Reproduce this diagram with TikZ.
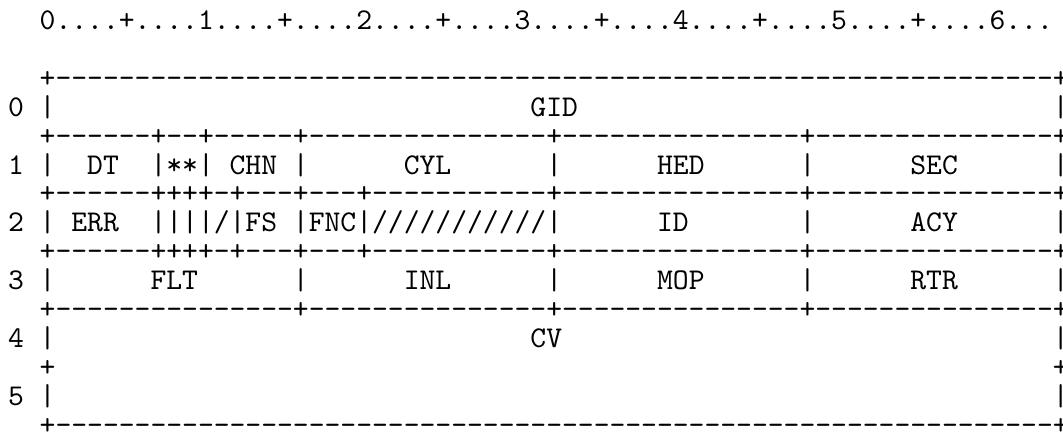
\documentclass[tikz,border=0pt]{standalone}

\newcommand{\dashrun}[1]{\foreach \k in {1,...,#1}{-}}

\begin{document}
\begin{tikzpicture}[x=5.25pt,y=-9.585pt,
                    ascii/.style={anchor=west,inner sep=0pt,font=\ttfamily,text height=0.7em,text depth=0.2em}
                ]
    \useasboundingbox (-2.97,-0.76) rectangle (64.18,14.33);
    % ruler and row numbers
    \node[ascii] (ruler) at (-0.5,0) {0....+....1....+....2....+....3....+....4....+....5....+....6...};
    \foreach \r in {0,...,5}
        {
        \node[ascii] (lbl\r) at (-2.5,{2*\r+3}) {\r};
    }
    % separator lines
    \node[ascii] (sep0) at (-0.5,2) {+\dashrun{63}+};
    \node[ascii] (sep1) at (-0.5,4) {+\dashrun{6}+\dashrun{2}+\dashrun{5}+\dashrun{15}+\dashrun{15}+\dashrun{15}+};
    \node[ascii] (sep2) at (-0.5,6) {+\dashrun{6}++++-+\dashrun{3}+\dashrun{3}+\dashrun{11}+\dashrun{15}+\dashrun{15}+};
    \node[ascii] (sep3) at (-0.5,8) {+\dashrun{6}++++-+\dashrun{3}+\dashrun{3}+\dashrun{11}+\dashrun{15}+\dashrun{15}+};
    \node[ascii] (sep4) at (-0.5,10) {+\dashrun{15}+\dashrun{15}+\dashrun{15}+\dashrun{15}+};
    \node[ascii] (sep5l) at (-0.5,12) {+};
    \node[ascii] (sep5r) at (63.5,12) {+};
    \node[ascii] (sep6) at (-0.5,14) {+\dashrun{63}+};
    % vertical bars, per row
    \foreach \i/\cols in {3/{0,64},5/{0,7,10,16,32,48,64},7/{0,7,8,9,10,12,16,20,32,48,64},
                          9/{0,16,32,48,64},11/{0,64},13/{0,64}}
        {
        \foreach \c in \cols
            {
            \node[ascii] (bar\i-\c) at (\c-0.5,\i) {|};
        }
    }
    % field names
    \foreach \c/\i/\txt/\nm in {31/3/GID/gid,
                                3/5/DT/dt,8/5/**/stars,12/5/CHN/chn,23/5/CYL/cyl,39/5/HED/hed,55/5/SEC/sec,
                                2/7/ERR/err,13/7/FS/fs,17/7/FNC/fnc,39/7/ID/id,55/7/ACY/acy,
                                7/9/FLT/flt,23/9/INL/inl,39/9/MOP/mop,55/9/RTR/rtr,
                                31/11/CV/cv}
        {
        \node[ascii] (\nm) at (\c-0.5,\i) {\txt};
    }
    \node[ascii] (slash) at (10.5,7) {/};
    \node[ascii] (hatch) at (20.5,7) {///////////};
\end{tikzpicture}
\end{document}
